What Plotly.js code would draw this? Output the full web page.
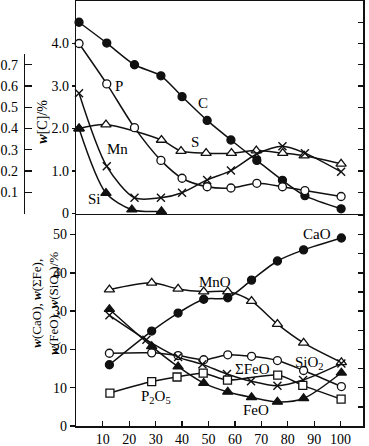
<!DOCTYPE html>
<html><head><meta charset="utf-8">
<script src="https://cdn.plot.ly/plotly-3.0.1.min.js"></script>
<style>html,body{margin:0;padding:0;background:#fff}</style>
</head><body><div id="chart" style="width:369px;height:446px"></div>
<script>
// ---- top panel data (metal bath, w[C] scale) ----
const topX = [1, 11.5, 22, 32, 40, 49.5, 58.5, 68.3, 78, 86.5, 100.2];
const cVals = [4.50, 4.01, 3.50, 3.24, 2.75, 2.19, 1.73, 1.25, 0.78, 0.42, 0.11];
const pVals = [4.00, 3.05, 2.02, 1.25, 0.83, 0.63, 0.60, 0.71, 0.63, 0.54, 0.40];
const mnVals = [2.83, 1.11, 0.37, 0.37, 0.49, 0.79, 1.01, 1.40, 1.58, 1.42, 0.98];
const sX = [1, 11.2, 32.2, 39.6, 49.1, 58.7, 68.1, 78.1, 86.2, 100.2];
const sVals = [2.00, 2.09, 1.73, 1.47, 1.42, 1.42, 1.48, 1.42, 1.36, 1.17];
const siX = [1, 11.2, 21, 32.2];
const siVals = [2.00, 0.48, 0.09, 0.05];
// ---- bottom panel data (slag composition, %) ----
const botX = [12.5, 28.5, 38.5, 48.2, 57.3, 66.3, 76.1, 86, 100.3];
const caoVals = [16.0, 24.8, 29.5, 33.1, 33.5, 38.1, 43.1, 46.0, 49.1];
const mnoVals = [35.6, 37.4, 35.8, 35.1, 35.1, 32.6, 26.6, 21.7, 16.6];
const sio2Vals = [19.0, 19.1, 18.4, 17.3, 18.6, 18.2, 17.1, 14.5, 10.3];
const feTotX = [12.5, 26.5, 38.5, 47.7, 57, 66.1, 76.1, 85.8, 100.3];
const feTotVals = [28.9, 22.5, 18.0, 16.1, 13.6, 11.7, 10.5, 12.0, 16.3];
const feoVals = [30.5, 20.8, 15.5, 11.2, 8.9, 7.5, 6.3, 7.2, 13.9];
const p2o5X = [12.7, 28.5, 38.1, 48, 57.2, 76.2, 85.7, 100.2];
const p2o5Vals = [8.6, 11.6, 12.8, 13.8, 12.0, 13.3, 10.6, 7.0];
// tick labels
const xTicks = [10, 20, 30, 40, 50, 60, 70, 80, 90, 100];
const topTicks = [0, 1, 2, 3, 4];
const topTickText = ['0', '1.0', '2.0', '3.0', '4.0'];
const subTicks = [0.1, 0.2, 0.3, 0.4, 0.5, 0.6, 0.7];
const subTickText = ['0.1', '0.2', '0.3', '0.4', '0.5', '0.6', '0.7'];
const botTicks = [0, 10, 20, 30, 40, 50];

const INK = '#111';
const LW = 1.5;
function series(x, y, sym, fill, size, xa, ya) {
  const open = fill === 'open';
  const isX = sym === 'x-thin';
  return {
    x: x, y: y, xaxis: xa, yaxis: ya, type: 'scatter', mode: 'lines+markers',
    line: {color: INK, width: LW, shape: 'spline', smoothing: 0.8},
    marker: {symbol: sym, size: size, color: isX ? INK : (open ? '#fff' : INK),
             line: {color: INK, width: isX ? 1.4 : 1.3}},
    cliponaxis: false, hoverinfo: 'skip', showlegend: false
  };
}
const data = [
  series(sX, sVals, 'triangle-up', 'open', 9, 'x2', 'y2'),
  series(topX, cVals, 'circle', 'fill', 8, 'x2', 'y2'),
  series(topX, pVals, 'circle', 'open', 8, 'x2', 'y2'),
  series(topX, mnVals, 'x-thin', 'fill', 8, 'x2', 'y2'),
  series(siX, siVals, 'triangle-up', 'fill', 9, 'x2', 'y2'),
  series(botX, mnoVals, 'triangle-up', 'open', 9, 'x', 'y'),
  series(botX, caoVals, 'circle', 'fill', 8, 'x', 'y'),
  series(botX, sio2Vals, 'circle', 'open', 8, 'x', 'y'),
  series(feTotX, feTotVals, 'x-thin', 'fill', 8, 'x', 'y'),
  series(p2o5X, p2o5Vals, 'square', 'open', 8, 'x', 'y'),
  series(botX, feoVals, 'triangle-up', 'fill', 9, 'x', 'y'),
  // helper traces so the extra axes get drawn
  {x: [null], y: [null], xaxis: 'x2', yaxis: 'y3', type: 'scatter', mode: 'markers', showlegend: false},
  {x: [null], y: [null], xaxis: 'x2', yaxis: 'y4', type: 'scatter', mode: 'markers', showlegend: false},
  {x: [null], y: [null], xaxis: 'x', yaxis: 'y5', type: 'scatter', mode: 'markers', showlegend: false}
];

const FONT = 'Liberation Serif, Times New Roman, serif';
const tf = {family: FONT, size: 14, color: '#000'};
const XD = [0.2087, 0.9919];
const SPLIT = 0.5;
const axBase = {showgrid: false, zeroline: false, showline: true, linecolor: INK, linewidth: 1.5,
                tickcolor: INK, tickwidth: 1.3, tickfont: tf};

function lbl(text, x, y, xr, yr) {
  return {text: text, x: x, y: y, xref: xr, yref: yr, showarrow: false,
          font: {family: FONT, size: 15, color: '#000'}, xanchor: 'center', yanchor: 'middle'};
}

const layout = {
  width: 369, height: 446,
  margin: {l: 0, r: 3, t: 1, b: 20},
  paper_bgcolor: '#fff', plot_bgcolor: 'rgba(0,0,0,0)',
  showlegend: false,
  font: {family: FONT, color: '#000'},
  xaxis: Object.assign({}, axBase, {domain: XD, range: [0, 108.5], anchor: 'y',
    tickmode: 'array', tickvals: xTicks, ticks: 'inside', ticklen: 5}),
  xaxis2: Object.assign({}, axBase, {domain: XD, range: [0, 108.5], anchor: 'y2', matches: 'x',
    showticklabels: false, ticks: '', mirror: true}),
  yaxis: Object.assign({}, axBase, {domain: [0, SPLIT], range: [0, 55.5], anchor: 'x',
    tickmode: 'array', tickvals: botTicks, ticks: 'outside', ticklen: 5}),
  yaxis2: Object.assign({}, axBase, {domain: [SPLIT, 1], range: [0, 5.0], anchor: 'x2',
    tickmode: 'array', tickvals: topTicks, ticktext: topTickText, ticks: 'outside', ticklen: 3}),
  yaxis3: Object.assign({}, axBase, {domain: [SPLIT, 0.875], range: [0, 0.75], anchor: 'free',
    position: 0.065, side: 'left', tickmode: 'array', tickvals: subTicks, ticktext: subTickText,
    ticks: 'inside', ticklen: 7, ticklabelstandoff: 3}),
  yaxis4: Object.assign({}, axBase, {overlaying: 'y2', anchor: 'x2', side: 'right', range: [0, 5.0],
    tickmode: 'linear', tick0: 0.5, dtick: 0.5, ticks: 'inside', ticklen: 5, showticklabels: false}),
  yaxis5: Object.assign({}, axBase, {overlaying: 'y', anchor: 'x', side: 'right', range: [0, 55.5],
    tickmode: 'linear', tick0: 5, dtick: 5, ticks: 'inside', ticklen: 5, showticklabels: false}),
  annotations: [
    lbl('P', 16.2, 3.01, 'x2', 'y2'),
    lbl('C', 47.8, 2.59, 'x2', 'y2'),
    lbl('S', 44.9, 1.68, 'x2', 'y2'),
    lbl('Mn', 15.5, 1.51, 'x2', 'y2'),
    lbl('Si', 6.8, 0.35, 'x2', 'y2'),
    lbl('CaO', 91.0, 50.1, 'x', 'y'),
    lbl('MnO', 52.6, 37.7, 'x', 'y'),
    lbl('ΣFeO', 66.5, 14.9, 'x', 'y'),
    lbl('SiO<sub>2</sub>', 88.1, 16.5, 'x', 'y'),
    lbl('FeO', 67.9, 4.25, 'x', 'y'),
    lbl('P<sub>2</sub>O<sub>5</sub>', 30.3, 7.6, 'x', 'y'),
    {text: '<i><b>w</b></i>[C]/%', x: 43/369, y: (426 - 122) / 425, xref: 'paper', yref: 'paper',
     textangle: -90, showarrow: false, font: {family: FONT, size: 14, color: '#000'},
     xanchor: 'center', yanchor: 'middle'},
    {text: '<i><b>w</b></i>(CaO), <i><b>w</b></i>(ΣFe),<br><i><b>w</b></i>(FeO), <i><b>w</b></i>(SiO<sub>2</sub>)/%',
     x: 46/369, y: (426 - 303) / 425, xref: 'paper', yref: 'paper',
     textangle: -90, showarrow: false, font: {family: FONT, size: 13, color: '#000'},
     xanchor: 'center', yanchor: 'middle'}
  ]
};
Plotly.newPlot('chart', data, layout, {displayModeBar: false, staticPlot: true});
</script></body></html>
